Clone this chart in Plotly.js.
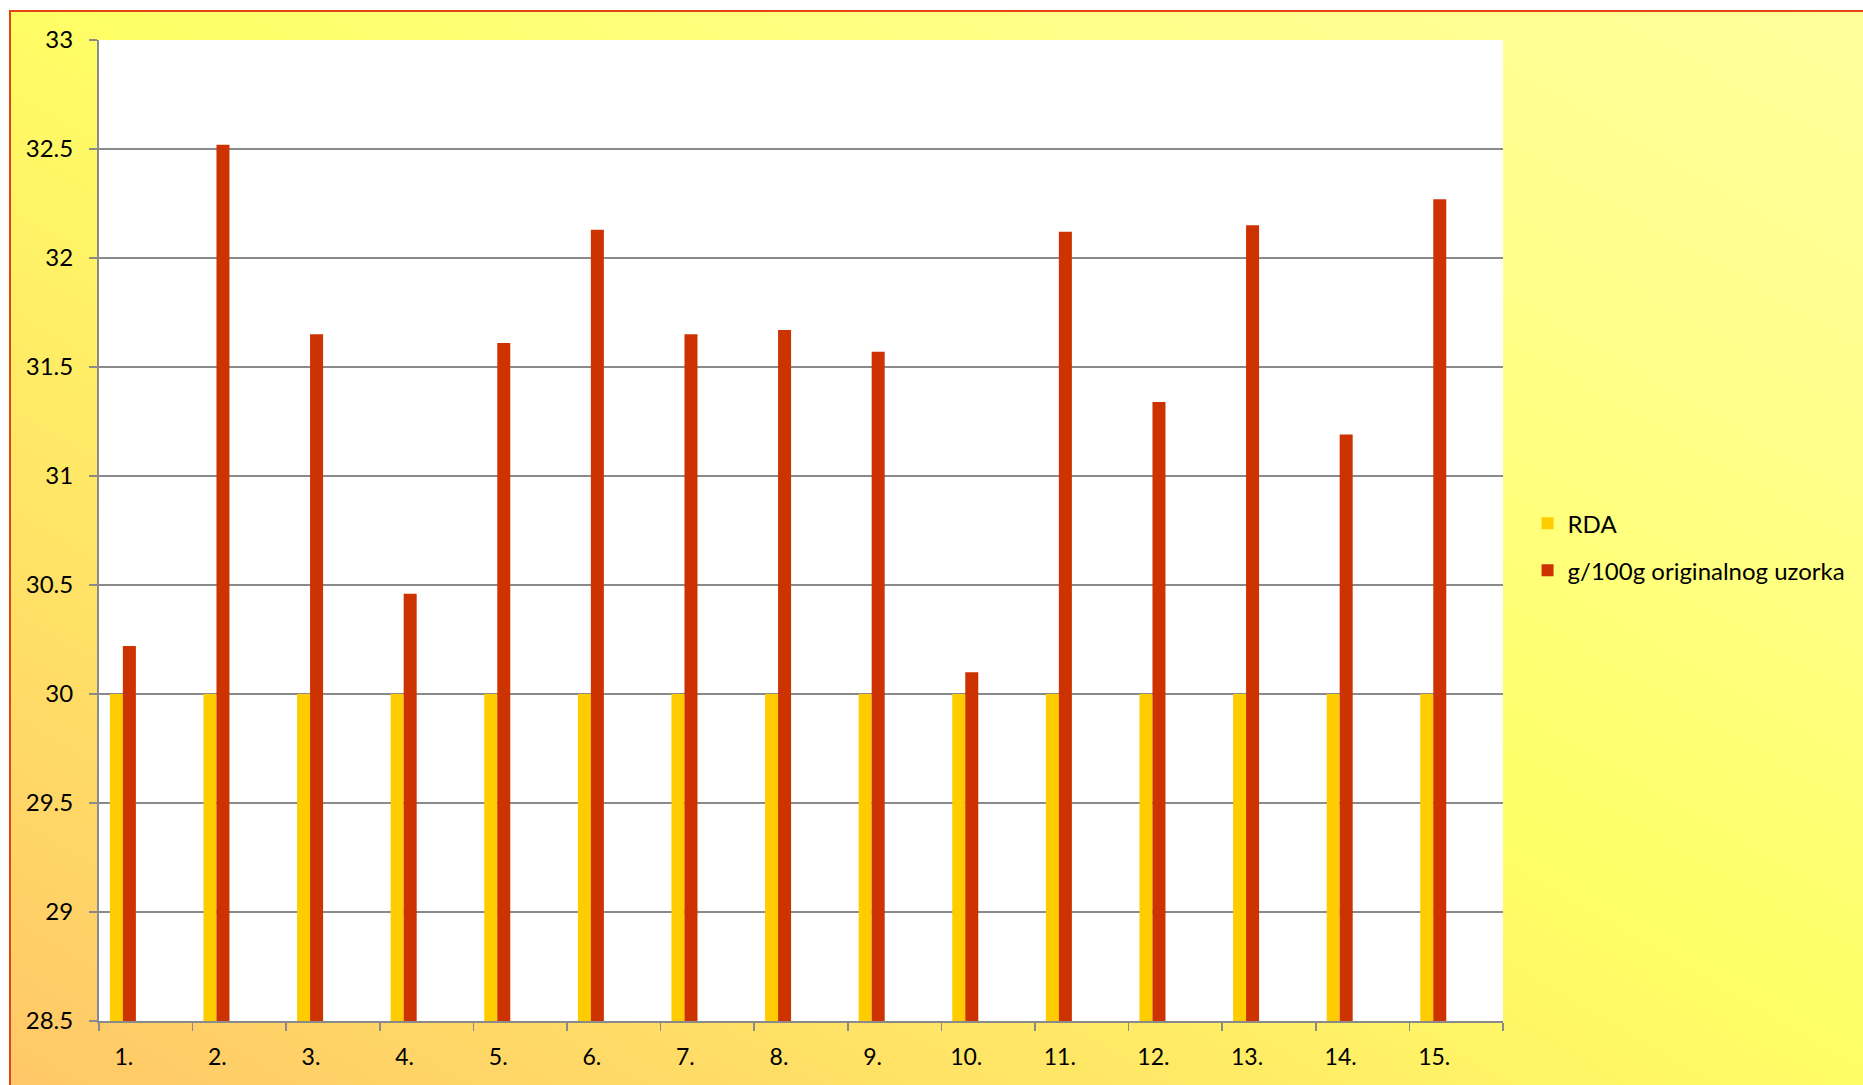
<!DOCTYPE html>
<html>
<head>
<meta charset="utf-8">
<script src="https://cdn.plot.ly/plotly-3.0.1.min.js"></script>
<style>
  html, body { margin: 0; padding: 0; background: #ffffff; overflow: hidden; }
  #frame {
    position: absolute; left: 9px; top: 10px; width: 1870px; height: 1090px;
    border: 2px solid #E2450F; box-sizing: border-box;
    background: linear-gradient(to top right, #FFC768 0%, #FFE766 30%, #FFFF66 52%, #FFFF8A 78%, #FFFF9C 100%);
  }
  #chart { position: absolute; left: 0; top: 0; width: 1863px; height: 1085px; }
</style>
</head>
<body>
<div id="frame"></div>
<div id="chart"></div>
<script>
const categories = ["1.", "2.", "3.", "4.", "5.", "6.", "7.", "8.", "9.", "10.", "11.", "12.", "13.", "14.", "15."];
const rdaValues = [30, 30, 30, 30, 30, 30, 30, 30, 30, 30, 30, 30, 30, 30, 30];
const sampleValues = [30.22, 32.52, 31.65, 30.46, 31.61, 32.13, 31.65, 31.67, 31.57, 30.10, 32.12, 31.34, 32.15, 31.19, 32.27];
const seriesNames = ["RDA", "g/100g originalnog uzorka"];
const yTickStep = 0.5;

const FONT = "Lato, 'Open Sans', sans-serif";
const GRID = "#8a8a8a";

const traces = [
  {
    type: "bar", name: seriesNames[0], x: categories, y: rdaValues,
    marker: { color: "#FFCC00" }, width: 0.139, offset: -0.384,
    legendgroup: "a", hoverinfo: "skip"
  },
  {
    type: "bar", name: seriesNames[1], x: categories, y: sampleValues,
    marker: { color: "#CC3300" }, width: 0.139, offset: -0.245,
    legendgroup: "b", hoverinfo: "skip"
  }
];

const layout = {
  width: 1863, height: 1085,
  margin: { l: 99, r: 357, t: 40, b: 64, pad: 0 },
  paper_bgcolor: "rgba(0,0,0,0)",
  plot_bgcolor: "#ffffff",
  barmode: "overlay",
  font: { family: FONT, size: 23, color: "#000000" },
  showlegend: true,
  legend: {
    x: 1.0175, xanchor: "left", y: 0.530, yanchor: "top",
    bgcolor: "rgba(0,0,0,0)", traceorder: "grouped", tracegroupgap: 13,
    font: { family: FONT, size: 24, color: "#000000" }
  },
  xaxis: {
    type: "category", categoryorder: "array", categoryarray: categories,
    range: [-0.5, categories.length - 0.5],
    tickson: "boundaries", ticks: "outside", ticklen: 8, tickwidth: 1.5, tickcolor: GRID,
    showline: true, linecolor: GRID, linewidth: 2,
    showgrid: false, zeroline: false,
    ticklabelshift: -22, ticklabelstandoff: 14,
    tickfont: { family: FONT, size: 23, color: "#000000" },
    fixedrange: true
  },
  xaxis2: {
    overlaying: "x", anchor: "y", side: "bottom", type: "linear",
    range: [-0.5, categories.length - 0.5],
    tickmode: "array", tickvals: categories.map((c, i) => i),
    ticks: "outside", ticklen: 8, tickwidth: 1.5, tickcolor: GRID,
    showticklabels: false, showline: false, showgrid: false, zeroline: false,
    fixedrange: true
  },
  yaxis: {
    range: [28.5, 33], tick0: 28.5, dtick: yTickStep,
    ticks: "outside", ticklen: 8, tickwidth: 1.5, tickcolor: GRID,
    showline: true, linecolor: GRID, linewidth: 2,
    showgrid: true, gridcolor: GRID, gridwidth: 1.6, zeroline: false,
    ticklabelstandoff: 11,
    tickfont: { family: FONT, size: 24, color: "#000000" },
    fixedrange: true
  }
};

Plotly.newPlot("chart", traces, layout, { displayModeBar: false, staticPlot: true });
</script>
</body>
</html>
